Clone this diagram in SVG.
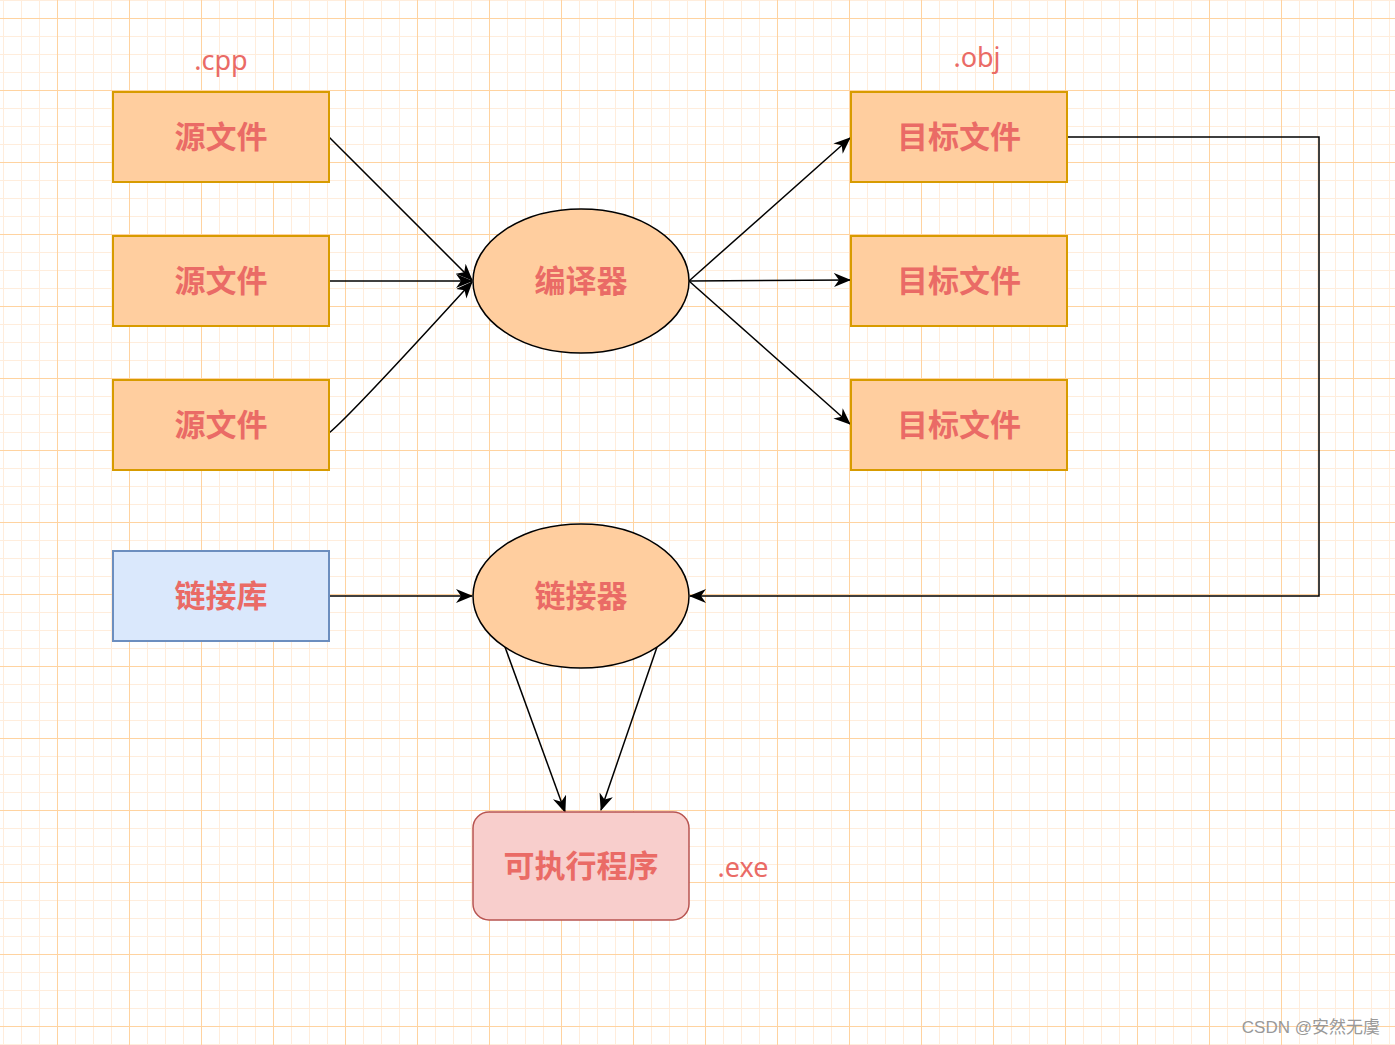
<svg xmlns="http://www.w3.org/2000/svg" width="1395" height="1045" viewBox="0 0 1395 1045">
<defs>
<pattern id="minor" patternUnits="userSpaceOnUse" x="3" y="0" width="18" height="18">
<path d="M0.5,0 V18 M0,0.5 H18" stroke="#FFEDDC" stroke-width="1" fill="none"/>
</pattern>
<pattern id="major" patternUnits="userSpaceOnUse" x="57" y="18" width="72" height="72">
<path d="M0.5,0 V72 M0,0.5 H72" stroke="#FFD3A0" stroke-width="1" fill="none"/>
</pattern>
<marker id="arr" markerUnits="userSpaceOnUse" markerWidth="18" markerHeight="16" refX="16" refY="7" orient="auto" viewBox="0 0 18 16">
<path d="M0,0 L17,7 L0,14 L5,7 Z" fill="#000"/>
</marker>
<style>
.src{fill:#FFCE9F;stroke:#D79B00;stroke-width:2}
.lib{fill:#DAE8FC;stroke:#6C8EBF;stroke-width:2}
.exe{fill:#F8CECC;stroke:#B85450;stroke-width:1.5}
.ell{fill:#FFCE9F;stroke:#000;stroke-width:1.5}
.t{font-family:"Noto Sans CJK SC","Noto Sans",sans-serif;font-weight:bold;font-size:31px;fill:#EA6B66;text-anchor:middle}
.ext{font-family:"Noto Sans","DejaVu Sans",sans-serif;font-size:27px;fill:#EA6B66;text-anchor:middle}
.c{fill:none;stroke:#000;stroke-width:1.5;marker-end:url(#arr)}
</style>
</defs>
<rect width="1395" height="1045" fill="#fff"/>
<rect width="1395" height="1045" fill="url(#minor)"/>
<rect width="1395" height="1045" fill="url(#major)"/>

<g id="connectors">
<path class="c" d="M329,137 L472,280"/>
<path class="c" d="M329,281 L472,281"/>
<path class="c" d="M329,433 Q350,416 472,282"/>
<path class="c" d="M689,281 L850,138"/>
<path class="c" d="M689,281 L850,280"/>
<path class="c" d="M689,281 L850,424"/>
<path class="c" d="M1067,137 H1319 V596 H690"/>
<path class="c" d="M329,596 H472"/>
<path class="c" d="M505,647 L565,812"/>
<path class="c" d="M657,647 L601,810"/>
</g>

<g id="src1"><rect class="src" x="113" y="92" width="216" height="90"/><text class="t" x="221" y="148">源文件</text></g>
<g id="src2"><rect class="src" x="113" y="236" width="216" height="90"/><text class="t" x="221" y="292">源文件</text></g>
<g id="src3"><rect class="src" x="113" y="380" width="216" height="90"/><text class="t" x="221" y="436">源文件</text></g>
<g id="obj1"><rect class="src" x="851" y="92" width="216" height="90"/><text class="t" x="959" y="148">目标文件</text></g>
<g id="obj2"><rect class="src" x="851" y="236" width="216" height="90"/><text class="t" x="959" y="292">目标文件</text></g>
<g id="obj3"><rect class="src" x="851" y="380" width="216" height="90"/><text class="t" x="959" y="436">目标文件</text></g>
<g id="lib"><rect class="lib" x="113" y="551" width="216" height="90"/><text class="t" x="221" y="607">链接库</text></g>
<g id="compiler"><ellipse class="ell" cx="581" cy="281" rx="108" ry="72"/><text class="t" x="581" y="292">编译器</text></g>
<g id="linker"><ellipse class="ell" cx="581" cy="596" rx="108" ry="72"/><text class="t" x="581" y="607">链接器</text></g>
<g id="exe"><rect class="exe" x="473" y="812" width="216" height="108" rx="16"/><text class="t" x="581" y="877">可执行程序</text></g>

<text class="ext" x="221" y="70">.cpp</text>
<text class="ext" x="977" y="67">.obj</text>
<text class="ext" x="743" y="877">.exe</text>
<text x="1380" y="1033" font-family="'Liberation Sans','Noto Sans CJK SC',sans-serif" font-size="17" fill="#999" text-anchor="end">CSDN @安然无虞</text>
</svg>
